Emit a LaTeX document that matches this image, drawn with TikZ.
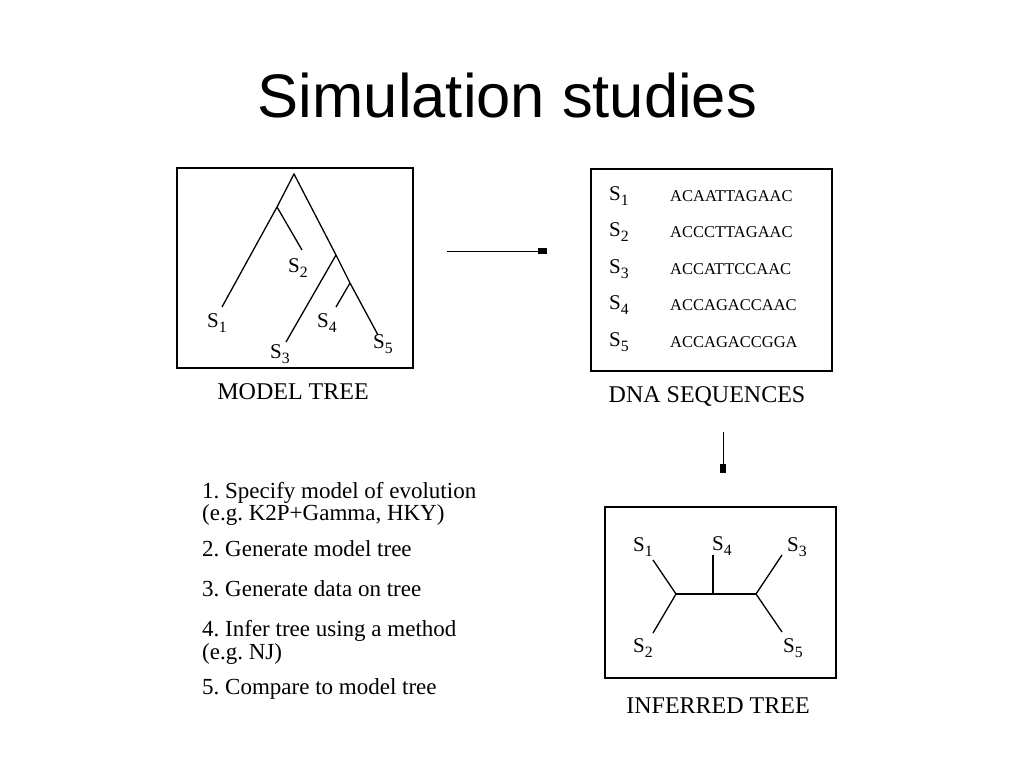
\documentclass[tikz,border=0pt]{standalone}
\usepackage{fontspec}
\setmainfont{Liberation Serif}
\newfontfamily\titlefont{Liberation Sans}
\usetikzlibrary{arrows.meta}
\frenchspacing

\newcommand{\taxsub}[1]{S\raisebox{-0.25em}{\scalebox{0.75}{#1}}}

\tikzset{
  panel/.style={draw,line width=1.5pt},
  branch/.style={line width=1.3pt},
  taxon/.style={font=\fontsize{21}{21}\selectfont,inner sep=0pt,anchor=base west},
  seq/.style={font=\fontsize{16.5}{16.5}\selectfont,inner sep=0pt,anchor=base west},
  caption/.style={font=\fontsize{24}{24}\selectfont,inner sep=0pt,anchor=base},
  steptext/.style={font=\fontsize{23}{23}\selectfont,inner sep=0pt,anchor=base west},
  flow/.style={line width=1pt,-{Square[length=9pt,width=6pt]}}
}

\begin{document}
\begin{tikzpicture}[x=1pt,y=-1pt]
  \useasboundingbox (0,0) rectangle (1024,768);
  \node[font=\titlefont\fontsize{61.5}{61.5}\selectfont,inner sep=0pt,anchor=base] (title) at (507.5,117) {Simulation studies};

  % model tree
  \draw[panel] (177,168) rectangle (413,368);
  \coordinate (mroot) at (294,174);
  \coordinate (ma) at (277,207);
  \coordinate (mb) at (336,255);
  \coordinate (mc) at (350,283);
  \coordinate (m1) at (222,307);
  \coordinate (m2) at (302,250);
  \coordinate (m3) at (286,342);
  \coordinate (m4) at (336,307);
  \coordinate (m5) at (378,335);
  \draw[branch] (m1)--(ma)--(mroot)--(mb)--(mc)--(m5);
  \draw[branch] (ma)--(m2);
  \draw[branch] (mb)--(m3);
  \draw[branch] (mc)--(m4);
  \node[taxon] (ms1) at (207,327) {\taxsub{1}};
  \node[taxon] (ms2) at (288,272) {\taxsub{2}};
  \node[taxon] (ms3) at (270,358) {\taxsub{3}};
  \node[taxon] (ms4) at (317,327) {\taxsub{4}};
  \node[taxon] (ms5) at (373,348) {\taxsub{5}};
  \node[caption] (modelcap) at (293,399) {MODEL TREE};

  % arrow to sequences
  \coordinate (ra) at (447,251);
  \coordinate (rb) at (547,251);
  \draw[flow] (ra)--(rb);

  % dna sequences
  \draw[panel] (591,169) rectangle (832,371);
  \foreach \i/\s in {1/ACAATTAGAAC,2/ACCCTTAGAAC,3/ACCATTCCAAC,4/ACCAGACCAAC,5/ACCAGACCGGA}{
    \node[taxon] (ds\i) at (609,163.5+36.5*\i) {\taxsub{\i}};
    \node[seq] (dq\i) at (670,164.5+36.5*\i) {\s};
  }
  \node[caption] (dnacap) at (707,402) {DNA SEQUENCES};

  % arrow to inferred tree
  \coordinate (da) at (723,432);
  \coordinate (db) at (723,473);
  \draw[flow] (da)--(db);

  % inferred tree
  \draw[panel] (605,507) rectangle (836,678);
  \coordinate (il) at (676,594);
  \coordinate (im) at (713,594);
  \coordinate (ir) at (756,594);
  \coordinate (i1) at (653,560);
  \coordinate (i2) at (653,633);
  \coordinate (i3) at (782,555);
  \coordinate (i4) at (713,555);
  \coordinate (i5) at (782,632);
  \draw[branch] (i1)--(il)--(i2);
  \draw[branch] (il)--(ir);
  \draw[branch] (i3)--(ir)--(i5);
  \draw[branch] (im)--(i4);
  \node[taxon] (is1) at (633,551) {\taxsub{1}};
  \node[taxon] (is4) at (712,550) {\taxsub{4}};
  \node[taxon] (is3) at (787,551) {\taxsub{3}};
  \node[taxon] (is2) at (633,652) {\taxsub{2}};
  \node[taxon] (is5) at (783,652) {\taxsub{5}};
  \node[caption] (infcap) at (718,713) {INFERRED TREE};

  % steps
  \node[steptext] (st1) at (202,498) {1. Specify model of evolution};
  \node[steptext] (st1b) at (202,520) {(e.g. K2P+Gamma, HKY)};
  \node[steptext] (st2) at (202,556) {2. Generate model tree};
  \node[steptext] (st3) at (202,596) {3. Generate data on tree};
  \node[steptext] (st4) at (202,636) {4. Infer tree using a method};
  \node[steptext] (st4b) at (202,659) {(e.g. NJ)};
  \node[steptext] (st5) at (202,694) {5. Compare to model tree};
\end{tikzpicture}
\end{document}
